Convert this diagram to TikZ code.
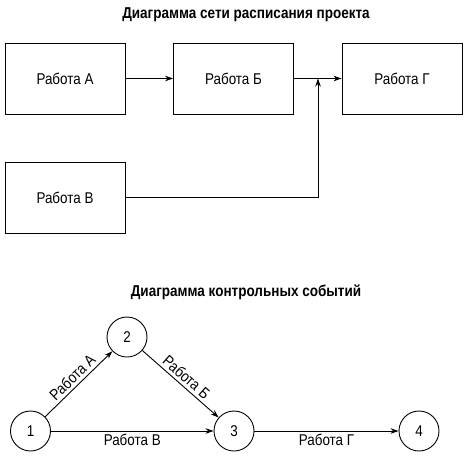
\documentclass[tikz,border=0pt]{standalone}
\usepackage{fontspec}
\setmainfont{Liberation Sans}[FakeStretch=0.86]
\usepackage{tikz}
\usetikzlibrary{arrows.meta,positioning}
\tikzset{>={Stealth[length=8pt,width=5.5pt]}}
\tikzset{job/.style={draw,line width=0.9pt,minimum width=120pt,minimum height=71pt,inner sep=0pt,font=\fontsize{15.6}{18}\selectfont}}
\tikzset{event/.style={draw,circle,line width=0.9pt,minimum size=40pt,inner sep=0pt,font=\fontsize{15.6}{18}\selectfont}}
\tikzset{flow/.style={->,line width=0.9pt}}
\tikzset{caption/.style={font=\fontsize{15.7}{18}\selectfont\bfseries}}
\tikzset{worklabel/.style={font=\fontsize{15.6}{18}\selectfont,inner sep=3pt}}

\begin{document}
\begin{tikzpicture}[x=1pt,y=-1pt]
  \useasboundingbox (0,0) rectangle (468,458);
  % network of the schedule
  \node[caption] (title1) at (246,15) {Диаграмма сети расписания проекта};
  \node[job] (jobA) at (65,78.5) {Работа А};
  \node[job] (jobB) at (233.5,78.5) {Работа Б};
  \node[job] (jobD) at (402,78.5) {Работа Г};
  \node[job] (jobV) at (65,197.5) {Работа В};
  \coordinate (merge) at (318,78.5);
  \draw[flow] (jobA) -- (jobB);
  \draw[flow] (jobB) -- (jobD);
  \draw[flow] (jobV.east) -| (merge);
  % milestones
  \node[caption] (title2) at (246,292) {Диаграмма контрольных событий};
  \node[event] (ev1) at (30.5,431) {1};
  \node[event] (ev2) at (127,337) {2};
  \node[event] (ev3) at (234,431) {3};
  \node[event] (ev4) at (419,431) {4};
  \draw[flow] (ev1) -- node[worklabel,sloped,above] {Работа А} (ev2);
  \draw[flow] (ev2) -- node[worklabel,sloped,above] {Работа Б} (ev3);
  \draw[flow] (ev1) -- node[worklabel,below] {Работа В} (ev3);
  \draw[flow] (ev3) -- node[worklabel,below] {Работа Г} (ev4);
\end{tikzpicture}
\end{document}
